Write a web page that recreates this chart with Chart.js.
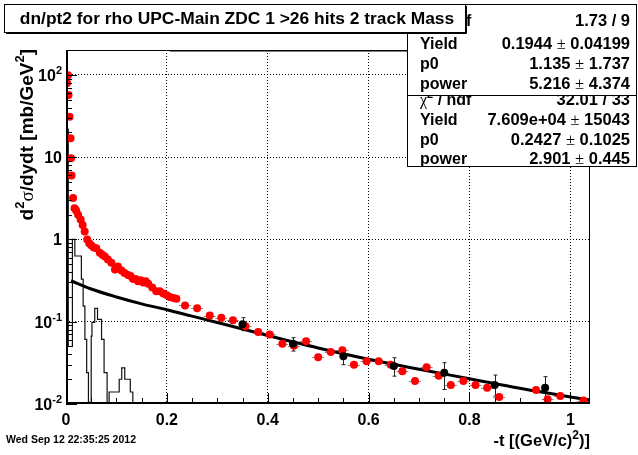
<!DOCTYPE html>
<html>
<head>
<meta charset="utf-8">
<script src="https://cdn.jsdelivr.net/npm/chart.js@4.4.1/dist/chart.umd.min.js"></script>
<style>
  html, body { margin: 0; padding: 0; background: #fff; }
</style>
</head>
<body>
<canvas id="c" width="638" height="455"></canvas>
<script>
// red points (dn/dt, fine binning)
const redX = [0.002, 0.004, 0.005, 0.007, 0.009, 0.010, 0.011, 0.014, 0.017, 0.020, 0.024, 0.029, 0.033, 0.037,
  0.042, 0.046, 0.050, 0.055, 0.060, 0.067, 0.072, 0.077, 0.083, 0.090, 0.097, 0.103, 0.110, 0.116, 0.123,
  0.128, 0.133, 0.138, 0.143, 0.148, 0.153, 0.158, 0.163, 0.171, 0.179, 0.186, 0.193, 0.200, 0.206, 0.213,
  0.219, 0.236, 0.260, 0.285, 0.308, 0.331, 0.356, 0.381, 0.404, 0.429, 0.452, 0.476, 0.500, 0.525, 0.548,
  0.571, 0.596, 0.620, 0.644, 0.667, 0.692, 0.715, 0.739, 0.763, 0.788, 0.812, 0.835, 0.859, 0.932, 0.955,
  0.980, 1.026];
const redY = [80, 99, 57, 31, 17, 9.7, 6.0, 3.2, 2.4, 2.25, 2.0, 1.75, 1.5, 1.25,
  1.0, 0.9, 0.85, 0.8, 0.78, 0.69, 0.65, 0.62, 0.57, 0.52, 0.43, 0.47, 0.42, 0.39, 0.37,
  0.36, 0.33, 0.33, 0.31, 0.32, 0.30, 0.31, 0.29, 0.26, 0.235, 0.235, 0.22, 0.21, 0.20, 0.195,
  0.19, 0.158, 0.146, 0.119, 0.112, 0.104, 0.088, 0.075, 0.070, 0.054, 0.051, 0.058, 0.037, 0.043, 0.045,
  0.030, 0.033, 0.033, 0.030, 0.025, 0.019, 0.028, 0.022, 0.017, 0.019, 0.017, 0.0158, 0.0122, 0.0148, 0.0114,
  0.0125, 0.011];
const RED_XERR = 0.012;

// black points (coarse binning) with error bars
const blkX = [0.35, 0.45, 0.55, 0.65, 0.75, 0.85, 0.95];
const blkY = [0.093, 0.054, 0.038, 0.029, 0.024, 0.017, 0.0158];
const blkLo = [0.078, 0.044, 0.030, 0.0218, 0.0150, 0.0125, 0.0114];
const blkHi = [0.112, 0.064, 0.046, 0.0365, 0.0318, 0.0225, 0.0215];

// fitted curve
const fitX = [0.01, 0.05, 0.1, 0.15, 0.2, 0.25, 0.3, 0.4, 0.5, 0.6, 0.7, 0.8, 0.9, 1.0, 1.039];
const fitY = [0.315, 0.25, 0.2, 0.165, 0.14, 0.117, 0.098, 0.068, 0.048, 0.035, 0.0265, 0.0203, 0.0155, 0.0122, 0.0112];

// other function, off the top of the frame
const offTopX = [0.206, 1.039];

// thin histogram (left bin edges)
const histX = [0, 0, 0.0045, 0.0127, 0.0175, 0.0305, 0.034, 0.0375, 0.041, 0.0445, 0.0475, 0.050, 0.0515,
  0.057, 0.0625, 0.0705, 0.0755, 0.0815, 0.0855, 0.1055, 0.1105, 0.1165, 0.1275, 0.1325, 0.1375];
const histY = [0.001, 95, 22, 0.05, 1.0, 0.63, 0.33, 0.155, 0.061, 0.024, 0.0105, 0.001, 0.067,
  0.098, 0.145, 0.107, 0.061, 0.024, 0.001, 0.014, 0.020, 0.0275, 0.020, 0.014, 0.001];

const xTicks = [0, 0.2, 0.4, 0.6, 0.8, 1];
const xTickLabels = ['0', '0.2', '0.4', '0.6', '0.8', '1'];
const yTicks = [0.01, 0.1, 1, 10, 100];
const yTickLabels = [['10', '-2'], ['10', '-1'], ['1', ''], ['10', ''], ['10', '2']];
const X_MAX = 1.039, Y_MIN = 0.01, Y_MAX = 201;

const titleText = 'dn/pt2 for rho UPC-Main ZDC 1 >26 hits 2 track Mass';
const statNames = ['chi', 'Yield', 'p0', 'power'];
const stats1 = ['1.73 / 9', '0.1944 ± 0.04199', '1.135 ± 1.737', '5.216 ± 4.374'];
const stats2 = ['32.01 / 33', '7.609e+04 ± 15043', '0.2427 ± 0.1025', '2.901 ± 0.445'];
const dateText = 'Wed Sep 12 22:35:25 2012';

const FONT = '"Liberation Sans", Arial, Helvetica, sans-serif';

function richText(ctx, parts, x, y, align, size) {
  const fonts = {
    b: `bold ${size}px ${FONT}`,
    s: `bold ${Math.round(size * 0.7)}px ${FONT}`,
    g: `${size}px "Liberation Serif", "DejaVu Serif", serif`
  };
  let w = 0;
  parts.forEach(([t, k]) => { ctx.font = fonts[k]; w += ctx.measureText(t).width; });
  let cx = align === 'right' ? x - w : align === 'center' ? x - w / 2 : x;
  ctx.textAlign = 'left';
  ctx.textBaseline = 'alphabetic';
  parts.forEach(([t, k]) => {
    ctx.font = fonts[k];
    ctx.fillText(t, cx, k === 's' ? y - size * 0.45 : y);
    cx += ctx.measureText(t).width;
  });
}

function valueParts(v) {
  if (v.indexOf('±') < 0) return [[v, 'b']];
  const p = v.split('±');
  return [[p[0], 'b'], ['±', 'g'], [p[1], 'b']];
}

function statBox(ctx, x0, y0, x1, y1, rows, values) {
  ctx.fillStyle = '#fff';
  ctx.fillRect(x0, y0, x1 - x0, y1 - y0);
  ctx.strokeStyle = '#000';
  ctx.lineWidth = 1;
  ctx.strokeRect(x0 + 0.5, y0 + 0.5, x1 - x0 - 1, y1 - y0 - 1);
  ctx.fillStyle = '#000';
  rows.forEach((ry, i) => {
    const base = ry + 6;
    if (statNames[i] === 'chi') {
      richText(ctx, [['χ', 'g'], ['2', 's'], [' / ndf', 'b']], x0 + 13, base, 'left', 16);
    } else {
      richText(ctx, [[statNames[i], 'b']], x0 + 13, base, 'left', 16);
    }
    richText(ctx, valueParts(values[i]), x1 - 7, base, 'right', 16.5);
  });
}

const rootPlugin = {
  id: 'rootDecor',
  beforeDatasetsDraw(chart) {
    const { ctx, chartArea: a, scales: { x, y } } = chart;
    ctx.save();
    ctx.beginPath();
    ctx.rect(a.left, a.top, a.right - a.left, a.bottom - a.top);
    ctx.clip();
    // red x-error whiskers
    ctx.strokeStyle = '#8a8a8a';
    ctx.lineWidth = 1;
    ctx.setLineDash([3, 2]);
    redX.forEach((v, i) => {
      if (v < 0.225) return;
      const px = x.getPixelForValue(v), py = Math.round(y.getPixelForValue(redY[i])) + 0.5;
      const l = x.getPixelForValue(v - RED_XERR), r = x.getPixelForValue(v + RED_XERR);
      ctx.beginPath();
      ctx.moveTo(l, py); ctx.lineTo(px - 3, py);
      ctx.moveTo(px + 3, py); ctx.lineTo(r, py);
      ctx.stroke();
    });
    ctx.setLineDash([]);
    // black error bars
    ctx.strokeStyle = '#222';
    blkX.forEach((v, i) => {
      const px = Math.round(x.getPixelForValue(v)) + 0.5;
      const t = y.getPixelForValue(blkHi[i]), b = y.getPixelForValue(blkLo[i]);
      ctx.beginPath();
      ctx.moveTo(px, t); ctx.lineTo(px, b);
      ctx.moveTo(px - 2, t); ctx.lineTo(px + 2, t);
      ctx.moveTo(px - 2, b); ctx.lineTo(px + 2, b);
      ctx.stroke();
    });
    ctx.restore();
  },
  afterDraw(chart) {
    const { ctx, chartArea: a, scales: { x, y } } = chart;
    ctx.save();
    ctx.strokeStyle = '#000';
    ctx.fillStyle = '#000';
    ctx.lineWidth = 1;

    // inward ticks, x
    for (let v = 0; v <= X_MAX + 1e-9; v += 0.05) {
      const major = xTicks.some(t => Math.abs(t - v) < 1e-6);
      const px = Math.round(x.getPixelForValue(v)) + 0.5;
      ctx.beginPath();
      ctx.moveTo(px, a.bottom);
      ctx.lineTo(px, a.bottom - (major ? 11 : 6));
      ctx.stroke();
    }
    // inward ticks, y (log)
    yTicks.forEach(d => {
      for (let m = 1; m <= 9; m++) {
        const v = d * m;
        if (v > Y_MAX) break;
        const py = Math.round(y.getPixelForValue(v)) + 0.5;
        ctx.beginPath();
        ctx.moveTo(a.left, py);
        ctx.lineTo(a.left + (m === 1 ? 11 : 6), py);
        ctx.stroke();
      }
    });

    // frame
    ctx.strokeRect(a.left + 0.5, a.top + 0.5, a.right - a.left - 1, a.bottom - a.top - 1);
    ctx.lineWidth = 2;
    ctx.beginPath();
    ctx.moveTo(a.left + 1, a.top);
    ctx.lineTo(a.left + 1, a.bottom - 1);
    ctx.lineTo(a.right, a.bottom - 1);
    ctx.stroke();

    // tick labels
    ctx.font = `bold 16px ${FONT}`;
    ctx.textAlign = 'center';
    ctx.textBaseline = 'alphabetic';
    xTicks.forEach((v, i) => {
      ctx.fillText(xTickLabels[i], x.getPixelForValue(v), a.bottom + 21);
    });
    yTicks.forEach((v, i) => {
      const [b, e] = yTickLabels[i];
      const py = y.getPixelForValue(v) + 6;
      const parts = e ? [[b, 'b'], [e, 's']] : [[b, 'b']];
      richText(ctx, parts, a.left - 4, py, 'right', 16);
    });

    // axis titles
    richText(ctx, [['-t [(GeV/c)', 'b'], ['2', 's'], [')]', 'b']], a.right, 446, 'right', 16.5);
    ctx.save();
    ctx.translate(33, a.top - 1);
    ctx.rotate(-Math.PI / 2);
    richText(ctx, [['d', 'b'], ['2', 's'], ['σ', 'g'], ['/dydt [mb/GeV', 'b'], ['2', 's'], [']', 'b']], 0, 0, 'right', 19);
    ctx.restore();

    // date stamp
    ctx.font = `bold 10.5px ${FONT}`;
    ctx.textAlign = 'left';
    ctx.textBaseline = 'middle';
    ctx.fillText(dateText, 6, 440);

    // stat boxes
    statBox(ctx, 407, 86, 637, 167, [99, 119, 138.5, 158], stats2);
    statBox(ctx, 407, 4, 637, 96, [20, 43, 63, 83], stats1);

    // title box
    ctx.fillStyle = '#fff';
    ctx.fillRect(4, 4, 462, 29);
    ctx.strokeStyle = '#000';
    ctx.lineWidth = 1;
    ctx.strokeRect(4.5, 4.5, 461, 28);
    ctx.beginPath();
    ctx.moveTo(6, 33.5); ctx.lineTo(466.5, 33.5); ctx.lineTo(466.5, 6);
    ctx.stroke();
    ctx.fillStyle = '#000';
    ctx.font = `bold 17.4px ${FONT}`;
    ctx.textAlign = 'center';
    ctx.textBaseline = 'middle';
    ctx.fillText(titleText, 237, 19);
    ctx.restore();
  }
};

new Chart(document.getElementById('c'), {
  data: {
    datasets: [
      { type: 'scatter', data: blkX.map((v, i) => ({ x: v, y: blkY[i] })), pointRadius: 4,
        backgroundColor: '#000', borderWidth: 0 },
      { type: 'scatter', data: redX.map((v, i) => ({ x: v, y: redY[i] })), pointRadius: 4,
        backgroundColor: '#ff0000', borderWidth: 0 },
      { type: 'line', data: fitX.map((v, i) => ({ x: v, y: fitY[i] })), borderColor: '#000', borderWidth: 3,
        pointRadius: 0, fill: false, cubicInterpolationMode: 'monotone' },
      { type: 'line', data: offTopX.map(v => ({ x: v, y: Y_MAX })), borderColor: '#000', borderWidth: 3,
        pointRadius: 0, fill: false },
      { type: 'line', data: histX.map((v, i) => ({ x: v, y: histY[i] })), stepped: 'after', borderColor: '#111',
        borderWidth: 1.2, pointRadius: 0, fill: false }
    ]
  },
  options: {
    responsive: false,
    animation: false,
    devicePixelRatio: 1,
    layout: { padding: { left: 66, top: 50, right: 48, bottom: 51 } },
    plugins: { legend: { display: false }, tooltip: { enabled: false } },
    scales: {
      x: {
        type: 'linear', min: 0, max: X_MAX,
        afterBuildTicks: s => { s.ticks = xTicks.map(v => ({ value: v })); },
        ticks: { display: false },
        grid: { drawTicks: false, lineWidth: 1, color: c => (c.tick && c.tick.value === 0) ? 'rgba(0,0,0,0)' : '#000' },
        border: { display: false, dash: [1, 2] }
      },
      y: {
        type: 'logarithmic', min: Y_MIN, max: Y_MAX,
        afterBuildTicks: s => { s.ticks = yTicks.map(v => ({ value: v })); },
        ticks: { display: false },
        grid: { drawTicks: false, lineWidth: 1, color: c => (c.tick && c.tick.value === Y_MIN) ? 'rgba(0,0,0,0)' : '#000' },
        border: { display: false, dash: [1, 2] }
      }
    }
  },
  plugins: [rootPlugin]
});
</script>
</body>
</html>
